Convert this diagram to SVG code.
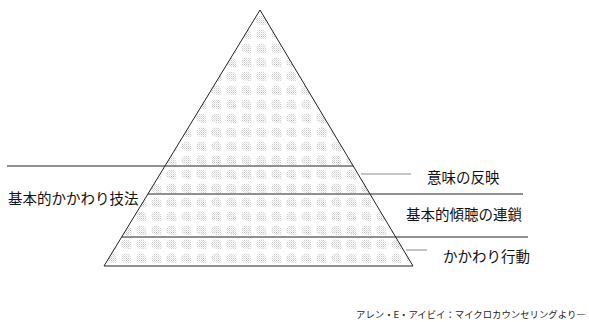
<svg xmlns="http://www.w3.org/2000/svg" width="589" height="322" viewBox="0 0 589 322">
<style>
.lbl{font-family:"Noto Sans CJK JP","Noto Sans",sans-serif;font-size:14.5px;fill:#111}
.foot{font-family:"Noto Sans CJK JP","Noto Sans",sans-serif;font-size:9.4px;fill:#222}
.ln{stroke:#222;stroke-width:1;fill:none}
.gl{stroke:#888;stroke-width:1;fill:none}
</style>
<defs>
<pattern id="dots" width="2" height="2" patternUnits="userSpaceOnUse">
<rect x="0" y="0" width="1" height="1" fill="#a8a8a8"/>
<rect x="1" y="1" width="1" height="1" fill="#d4d4d4"/>
</pattern>
<pattern id="tex" width="15" height="14" patternUnits="userSpaceOnUse">
<rect width="15" height="14" fill="#ffffff"/>
<ellipse cx="6" cy="6" rx="5" ry="4.5" fill="url(#dots)" opacity="0.6"/>
<ellipse cx="9" cy="9" rx="3" ry="2.5" fill="url(#dots)" opacity="0.5"/>
</pattern>
</defs>
<g id="pyramid">
<polygon points="260,10 104,266 413,266" fill="url(#tex)"/>
<polygon points="260,10 104,266 413,266" class="ln"/>
</g>
<g id="connectors">
<line x1="7" y1="166" x2="353" y2="166" class="ln"/>
<line x1="361" y1="174" x2="411" y2="174" class="gl"/>
<line x1="148" y1="194" x2="523" y2="194" class="ln"/>
<line x1="122" y1="237" x2="528" y2="237" class="ln"/>
<line x1="406" y1="250" x2="427" y2="250" class="gl"/>
</g>
<g id="label-imi"><text class="lbl" x="427" y="183">意味の反映</text></g>
<g id="label-keicho"><text class="lbl" x="406" y="220">基本的傾聴の連鎖</text></g>
<g id="label-kodo"><text class="lbl" x="443" y="262">かかわり行動</text></g>
<g id="label-giho"><text class="lbl" x="8" y="204" font-size="13.5">基本的かかわり技法</text></g>
<g id="source"><text class="foot" x="356" y="318">アレン・E・アイビイ：マイクロカウンセリングより―</text></g>
</svg>
